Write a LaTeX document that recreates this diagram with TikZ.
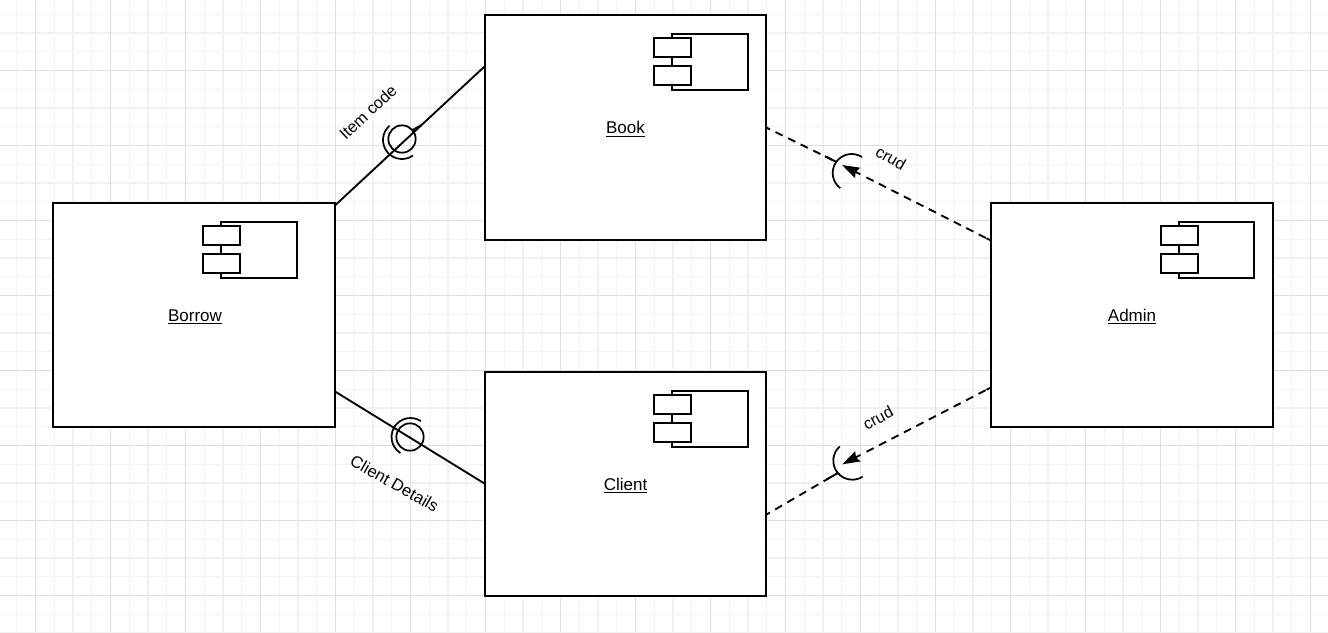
\documentclass[tikz,border=0pt]{standalone}
\usepackage{fontspec}
\setmainfont{Liberation Sans}
\usetikzlibrary{calc,arrows.meta}
\definecolor{gridminor}{HTML}{F4F4F4}
\definecolor{gridmed}{HTML}{F1F1F1}
\definecolor{gridmajor}{HTML}{E0E0E0}
\newcommand{\boxlabel}[1]{\raisebox{-4.7pt}[0pt][0pt]{\underline{#1}}}
\tikzset{
  compbox/.style={draw=black,fill=white,line width=1.5pt,minimum width=211pt,minimum height=168.4pt,inner sep=0pt,outer sep=0pt,font=\fontsize{12.75pt}{15pt}\selectfont},
  iconpart/.style={draw=black,fill=white,line width=1.4pt},
  wire/.style={draw=black,line width=1.4pt},
  dashwire/.style={draw=black,line width=1.4pt,dash pattern=on 6pt off 4.5pt},
  ball/.style={circle,draw=black,line width=1.3pt,minimum size=20.5pt,inner sep=0pt,outer sep=0pt},
  socket/.style={draw=black,line width=1.3pt},
  lbl/.style={font=\fontsize{12.2pt}{15pt}\selectfont,inner sep=0pt},
  minorline/.style={draw=gridminor,line width=0.75pt},
  medline/.style={draw=gridmed,line width=1.5pt},
  majorline/.style={draw=gridmajor,line width=0.75pt},
  headtip/.style={-{Stealth[length=13pt,width=8.5pt,inset=1.5pt]}}
}
\begin{document}
\begin{tikzpicture}[x=0.75pt,y=-0.75pt]
\useasboundingbox (0,0) rectangle (1328,632);
\fill[white] (0,0) rectangle (1328,632);
% grid
\foreach \k in {0,...,71}{
  \pgfmathsetmacro{\gx}{-2.0+18.75*\k}
  \draw[minorline] (\gx,0) -- (\gx,632);
}
\foreach \k in {0,...,34}{
  \pgfmathsetmacro{\gy}{-4.5+18.75*\k}
  \draw[minorline] (0,\gy) -- (1328,\gy);
}
\foreach \k in {0,...,17}{
  \pgfmathsetmacro{\gx}{73+75*\k}
  \draw[medline] (\gx,0) -- (\gx,632);
}
\foreach \k in {0,...,8}{
  \pgfmathsetmacro{\gy}{33+75*\k}
  \draw[medline] (0,\gy) -- (1328,\gy);
}
\foreach \k in {0,...,17}{
  \pgfmathsetmacro{\gx}{35.5+75*\k}
  \draw[majorline] (\gx,0) -- (\gx,632);
}
\foreach \k in {0,...,8}{
  \pgfmathsetmacro{\gy}{70.5+75*\k}
  \draw[majorline] (0,\gy) -- (1328,\gy);
}
% components
\node[compbox] (borrow) at (194,315) {\hspace*{1.5pt}\boxlabel{Borrow}};
\node[compbox] (book)   at (625.5,127.5) {\boxlabel{Book}};
\node[compbox] (client) at (625.5,484) {\boxlabel{Client}};
\node[compbox] (admin)  at (1132,315) {\boxlabel{Admin}};
\foreach \b/\off in {borrow/-19.5,book/0,client/0,admin/0}{
  \begin{scope}[shift={(\b.north east)},xshift=\off*0.75pt]
    \draw[iconpart] (-94,19) rectangle (-18.5,75);
    \draw[iconpart] (-112,23) rectangle (-75,42);
    \draw[iconpart] (-112,51) rectangle (-75,70);
  \end{scope}
}
% ball and socket nodes
\node[ball] (itemball) at (402,139) {};
\node[ball] (clientball) at (410,437) {};
\coordinate (itemsock) at (402,140);
\coordinate (clientsock) at (410.5,437);
\coordinate (crudtop) at (851.7,173);
\coordinate (crudlow) at (852.3,460.7);
\draw[socket] ([shift={(131:14.25pt)}]itemsock) arc[start angle=131,end angle=305,radius=14.25pt];
\draw[socket] ([shift={(57:14.25pt)}]clientsock) arc[start angle=57,end angle=238,radius=14.25pt];
\draw[socket] ([shift={(57:14.25pt)}]crudtop) arc[start angle=57,end angle=233,radius=14.25pt];
\draw[socket] ([shift={(131:14.25pt)}]crudlow) arc[start angle=131,end angle=303,radius=14.25pt];
% solid connectors
\draw[wire] ($(borrow.north east)+(0,3)$) -- ($(book.north west)+(0,51)$);
\fill[black] (412,134) -- (424,122.5) -- (412.5,129) -- cycle;
\draw[wire] ($(borrow.south east)+(0,-36)$) -- ($(client.north west)+(0,112)$);
% dashed connectors
\coordinate (tiptop) at (842,165);
\coordinate (tiplow) at (842.3,464.3);
\coordinate (stubtop) at (836,161.7);
\coordinate (stublow) at (837.3,473.3);
\coordinate (admintop) at ($(admin.north west)+(0,38)$);
\coordinate (adminlow) at ($(admin.south west)+(0,-40)$);
\coordinate (booksrc) at (book.east);
\coordinate (clientsrc) at ($(client.north east)+(0,143)$);
\draw[wire,headtip] ($(tiptop)!15.4pt!(admintop)$) -- (tiptop);
\draw[dashwire] ($(tiptop)!20.5pt!(admintop)$) -- (admintop);
\draw[wire] (admintop) -- ($(admintop)!4pt!(tiptop)$);
\draw[dashwire,dash phase=2.7pt] (booksrc) -- (stubtop);
\draw[wire] (stubtop) -- ($(stubtop)!9.3pt!(booksrc)$);
\draw[wire,headtip] ($(tiplow)!15.4pt!(adminlow)$) -- (tiplow);
\draw[dashwire] ($(tiplow)!20.5pt!(adminlow)$) -- (adminlow);
\draw[wire] (adminlow) -- ($(adminlow)!4pt!(tiplow)$);
\draw[dashwire,dash phase=2.7pt] (clientsrc) -- (stublow);
\draw[wire] (stublow) -- ($(stublow)!9.3pt!(clientsrc)$);
% labels
\node[lbl,rotate=43] (lblitem) at (368,112) {Item code};
\node[lbl,rotate=-29.5,font=\fontsize{12.5pt}{15pt}\selectfont] (lblclient) at (394.5,483.5) {Client Details};
\node[lbl,rotate=-30] (lblcrudt) at (891,158) {crud};
\node[lbl,rotate=28] (lblcrudb) at (878,418) {crud};
\end{tikzpicture}
\end{document}
